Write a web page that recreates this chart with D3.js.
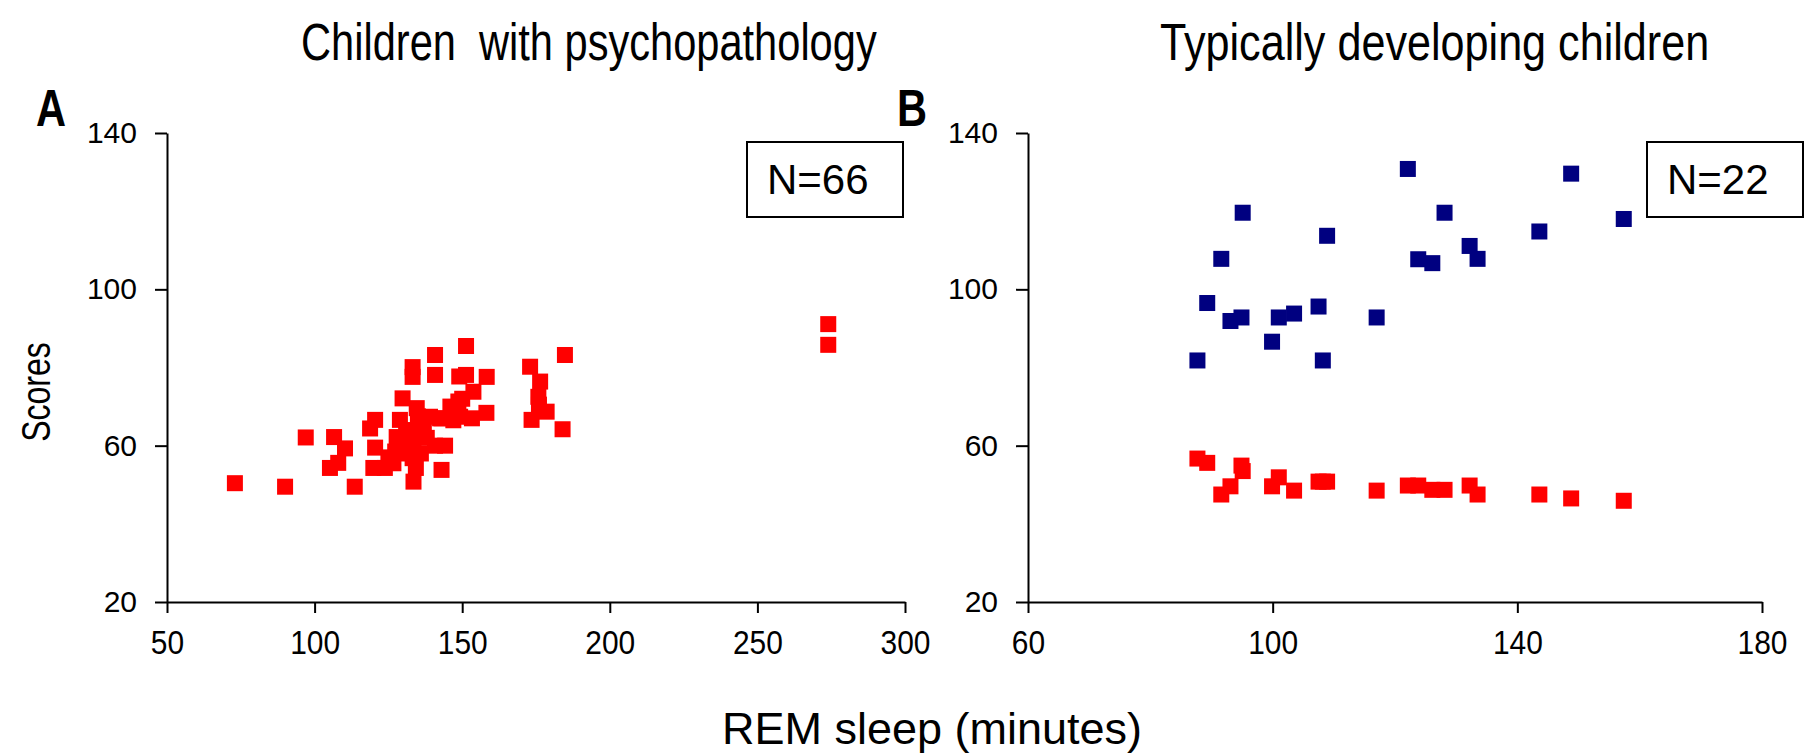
<!DOCTYPE html>
<meta charset="utf-8">
<style>
  body { margin: 0; background: #fff; }
  text { font-family: "Liberation Sans", Arial, sans-serif; fill: #000; white-space: pre; }
</style>
<script src="https://d3js.org/d3.v7.min.js"></script>
<svg width="1813" height="756"></svg>
<script>
// panel A : children with psychopathology (REM minutes, score)
var remA = [73, 90, 97, 106.6, 110.3, 105.2, 108, 113.6, 120.5, 118.8, 120.5, 119.9, 123.8,
  128.9, 127.8, 127.3, 126.7, 129.8, 133.2, 133.2, 140.8, 140.8, 151.3, 149, 151.3, 158.3,
  153.8, 148.7, 149.3, 153.3, 158.2, 142.5, 134.6, 135.7, 134.6, 133.5, 140.8, 144.2, 133.2,
  134.3, 133.5, 143, 139.1, 173, 176.4, 175.8, 178.6, 173.5, 184.8, 184, 176, 274, 274,
  131, 132, 135, 137, 136, 130, 146, 150, 143, 147, 138, 128, 125];
var scoreA = [50.4, 49.5, 62.1, 62.2, 59.3, 54.3, 55.6, 49.5, 66.6, 64.4, 59.5, 54.3, 54.3,
  66.6, 62.2, 58.5, 55.5, 72.1, 80.1, 77.6, 83.2, 78.1, 85.5, 77.7, 78.1, 77.6,
  73.8, 71.3, 67.4, 67, 68.4, 67, 69.6, 66.1, 63.2, 60.2, 60, 60, 56.8,
  54.3, 50.8, 53.8, 67.4, 80.2, 76.4, 72.5, 68.7, 66.6, 83.2, 64.2, 70.5, 91.1, 85.8,
  64, 61, 67.5, 66, 58, 58, 70, 72, 67, 66.5, 62, 60, 57];

// panel B : typically developing children, two scores per child
var remB = [87.7, 89.3, 91.6, 93.1, 94.9, 95.1, 99.9, 101, 103.5, 107.5, 108.2, 108.9,
  117, 122.1, 123.8, 126.1, 128.1, 132.2, 133.5, 143.6, 148.8, 157.4];
var scoreBblue = [81.8, 96.5, 107.8, 91.9, 92.8, 119.6, 86.6, 92.8, 93.8, 95.6, 81.8, 113.7,
  92.8, 130.8, 107.7, 106.7, 119.6, 111.1, 107.8, 114.8, 129.6, 118];
var scoreBred = [56.7, 55.6, 47.5, 49.6, 54.9, 53.5, 49.6, 51.9, 48.5, 50.8, 50.8, 50.8,
  48.5, 49.8, 49.8, 48.7, 48.7, 49.8, 47.5, 47.5, 46.5, 45.9];

var yTicks = [20, 60, 100, 140];
var xTicksA = [50, 100, 150, 200, 250, 300];
var xTicksB = [60, 100, 140, 180];

var svg = d3.select("svg");
var sz = 16;

var y = d3.scaleLinear().domain([20, 140]).range([602, 133]);
var xA = d3.scaleLinear().domain([50, 300]).range([167, 905]);
var xB = d3.scaleLinear().domain([60, 180]).range([1028, 1762]);

function drawAxes(x, xticks) {
  var ax = svg.append("g").attr("transform", "translate(0,602)")
    .call(d3.axisBottom(x).tickValues(xticks).tickSize(11).tickSizeOuter(0).tickPadding(10));
  var ay = svg.append("g").attr("transform", "translate(" + x.range()[0] + ",0)")
    .call(d3.axisLeft(y).tickValues(yTicks).tickSize(12).tickSizeOuter(0).tickPadding(18));
  [ax, ay].forEach(function(g) {
    g.select(".domain").attr("stroke", "#000").attr("stroke-width", 2);
    g.selectAll(".tick line").attr("stroke", "#000").attr("stroke-width", 2);
    g.selectAll("text").attr("fill", "#000");
  });
  ax.selectAll("text").attr("font-size", 34).attr("dy", "0.9em")
    .attr("transform", "scale(0.88,1)");
  ay.selectAll("text").attr("font-size", 30);
}

drawAxes(xA, xTicksA);
drawAxes(xB, xTicksB);

function dots(x, xs, ys, col) {
  svg.append("g").selectAll("rect")
    .data(xs.map(function(d, i) { return [d, ys[i]]; }))
    .enter().append("rect")
    .attr("x", function(d) { return x(d[0]) - sz / 2; })
    .attr("y", function(d) { return y(d[1]) - sz / 2; })
    .attr("width", sz).attr("height", sz)
    .attr("fill", col);
}
dots(xA, remA, scoreA, "#ff0000");
dots(xB, remB, scoreBblue, "#000080");
dots(xB, remB, scoreBred, "#ff0000");

// N boxes
function nbox(x0, label) {
  svg.append("rect").attr("x", x0).attr("y", 142).attr("width", 156).attr("height", 75)
    .attr("fill", "none").attr("stroke", "#000").attr("stroke-width", 2);
  svg.append("text").attr("x", x0 + 20).attr("y", 194).attr("font-size", 42).text(label);
}
nbox(747, "N=66");
nbox(1647, "N=22");

// titles and panel letters (narrow face)
function narrow(x, yy, size, sx, txt, bold) {
  svg.append("text").attr("transform", "translate(" + x + "," + yy + ") scale(" + sx + ",1)")
    .attr("font-size", size).attr("font-weight", bold ? "bold" : "normal").text(txt);
}
narrow(301, 60, 52, 0.8, "Children  with psychopathology");
narrow(1160, 60, 52, 0.83, "Typically developing children");
narrow(36, 126, 52, 0.8, "A", true);
narrow(897, 126, 52, 0.8, "B", true);

svg.append("text").attr("transform", "translate(50,392) rotate(-90) scale(0.8,1)")
  .attr("text-anchor", "middle").attr("font-size", 40).text("Scores");
svg.append("text").attr("x", 932).attr("y", 744).attr("text-anchor", "middle")
  .attr("font-size", 45).text("REM sleep (minutes)");
</script>
